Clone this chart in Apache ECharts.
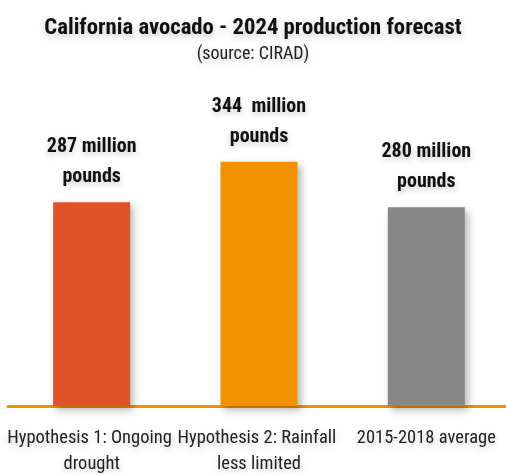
<!DOCTYPE html>
<html><head><meta charset="utf-8">
<script src="https://cdn.jsdelivr.net/npm/echarts@6/dist/echarts.min.js"></script>
<style>html,body{margin:0;padding:0;background:#fff}#c{width:506px;height:474px}</style>
</head><body><div id="c"></div>
<script>
const categories = ["Hypothesis 1: Ongoing drought", "Hypothesis 2: Rainfall less limited", "2015-2018 average"];
const values = [287, 344, 280];
const valueLabels = ["287 million\npounds", "344  million\npounds", "280 million\npounds"];
const colors = ["#E05227", "#F39200", "#878787"];
const FONT = "'Roboto Condensed', 'Liberation Sans Narrow', sans-serif";
const SH = {textShadowColor: 'rgba(0,0,0,0.22)', textShadowBlur: 7, textShadowOffsetY: 3};
const chart = echarts.init(document.getElementById('c'));
chart.setOption({
  animation: false,
  title: {
    text: 'California avocado - 2024 production forecast',
    subtext: '(source: CIRAD)',
    left: 'center', top: 12, itemGap: 5,
    textStyle: Object.assign({fontFamily: FONT, fontSize: 22.7, fontWeight: 'bold', color: '#111'}, SH),
    subtextStyle: Object.assign({fontFamily: FONT, fontSize: 18, color: '#222'}, SH)
  },
  grid: {left: 8, width: 502, top: 122, bottom: 68, containLabel: false, outerBoundsMode: 'none'},
  xAxis: {
    type: 'category', data: categories,
    axisLine: {lineStyle: {color: '#F39200', width: 3}},
    axisTick: {show: false},
    axisLabel: Object.assign({fontFamily: FONT, fontSize: 18.5, color: '#222', margin: 19, lineHeight: 26,
      width: 176, overflow: 'break', interval: 0}, SH)
  },
  yAxis: {type: 'value', min: 0, max: 400, show: false, splitLine: {show: false}},
  series: [{
    type: 'bar', barWidth: 77,
    data: values.map((v, i) => ({value: v, itemStyle: {color: colors[i]}})),
    itemStyle: {shadowColor: 'rgba(0,0,0,0.3)', shadowBlur: 8, shadowOffsetX: 3, shadowOffsetY: 4},
    label: Object.assign({show: true, position: 'top', distance: 10,
      formatter: p => valueLabels[p.dataIndex],
      fontFamily: FONT, fontSize: 20, fontWeight: 'bold', color: '#111', lineHeight: 30}, SH)
  }]
});
</script></body></html>
